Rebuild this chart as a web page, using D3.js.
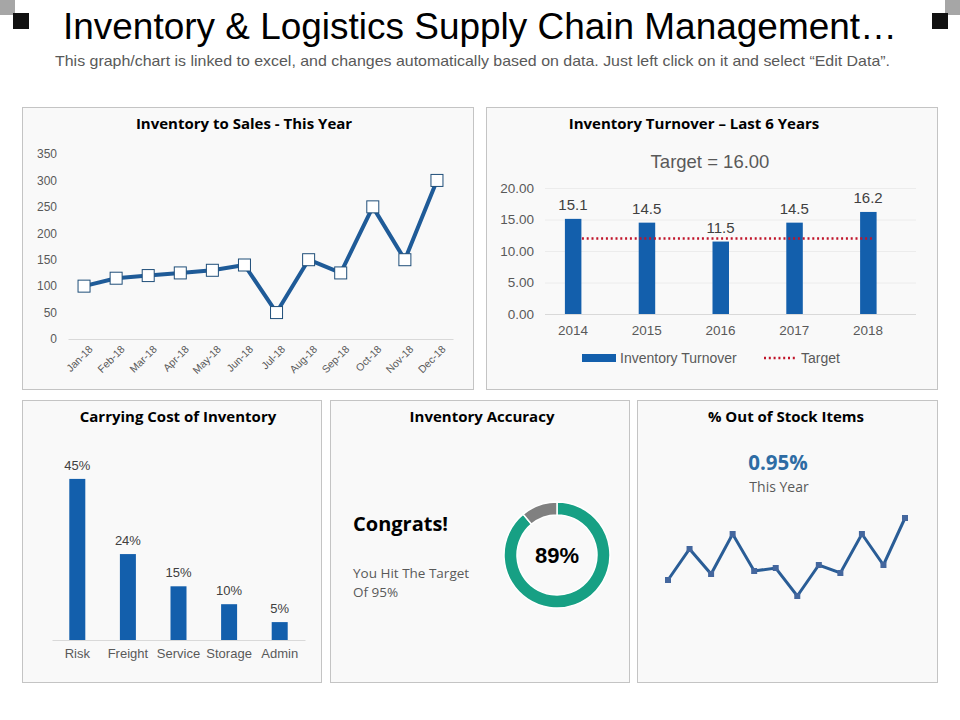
<!DOCTYPE html>
<html>
<head>
<meta charset="utf-8">
<script src="https://cdn.jsdelivr.net/npm/d3@7"></script>
<style>
  body { margin: 0; background: #fff; }
  svg { display: block; }
  .ptitle { font-family: "Open Sans", sans-serif; font-weight: bold; font-size: 15px; fill: #000; }
  .tick text { fill: #595959; font-family: "Liberation Sans", Arial, sans-serif; }
</style>
</head>
<body>
<svg id="page" width="960" height="720"></svg>
<script>
// data
var months = ["Jan-18","Feb-18","Mar-18","Apr-18","May-18","Jun-18","Jul-18","Aug-18","Sep-18","Oct-18","Nov-18","Dec-18"]
var invToSales = [100, 115, 120, 125, 130, 140, 50, 150, 125, 250, 150, 300]

var years = ["2014","2015","2016","2017","2018"]
var turnover = [15.1, 14.5, 11.5, 14.5, 16.2]
var targetLine = 12
var targetText = "Target = 16.00"

var costCats = ["Risk","Freight","Service","Storage","Admin"]
var costVals = [45, 24, 15, 10, 5]

var accuracy = [89, 11]

var stockVals = [0.90, 1.055, 0.93, 1.13, 0.945, 0.96, 0.82, 0.975, 0.935, 1.13, 0.975, 1.21]

var svg = d3.select("#page")
var arial = '"Liberation Sans", Arial, sans-serif'
var sans = '"Open Sans", sans-serif'

// corner squares
svg.append("rect").attr("x", 0).attr("y", 0).attr("width", 15).attr("height", 15).attr("fill", "#a6a6a6")
svg.append("rect").attr("x", 13).attr("y", 13).attr("width", 16).attr("height", 16).attr("fill", "#111")
svg.append("rect").attr("x", 945).attr("y", 0).attr("width", 15).attr("height", 15).attr("fill", "#a6a6a6")
svg.append("rect").attr("x", 932).attr("y", 13).attr("width", 16).attr("height", 16).attr("fill", "#111")

// header (narrow look squeezed to the reference width)
svg.append("text")
    .attr("x", 63).attr("y", 39)
    .attr("font-family", arial)
    .attr("font-size", 36)
    .attr("fill", "#000")
    .attr("textLength", 834)
    .attr("lengthAdjust", "spacingAndGlyphs")
    .text("Inventory & Logistics Supply Chain Management\u2026")

svg.append("text")
    .attr("x", 55).attr("y", 66)
    .attr("font-family", arial)
    .attr("font-size", 14.5)
    .attr("fill", "#595959")
    .attr("textLength", 835)
    .attr("lengthAdjust", "spacingAndGlyphs")
    .text("This graph/chart is linked to excel, and changes automatically  based on data. Just left click on it and select \u201cEdit Data\u201d.")

// panels
function panel(x, y, w, h, title, tx) {
    svg.append("rect")
        .attr("x", x + 0.5).attr("y", y + 0.5)
        .attr("width", w).attr("height", h)
        .attr("fill", "#f9f9f9")
        .attr("stroke", "#c4c4c4")
    svg.append("text")
        .attr("class", "ptitle")
        .attr("x", tx).attr("y", y + 22)
        .attr("text-anchor", "middle")
        .text(title)
}

panel(22, 107, 451, 282, "Inventory to Sales - This Year", 244)
panel(486, 107, 451, 282, "Inventory Turnover \u2013 Last 6 Years", 694)
panel(22, 400, 299, 282, "Carrying Cost of Inventory", 178)
panel(330, 400, 299, 282, "Inventory Accuracy", 482)
panel(637, 400, 300, 282, "% Out of Stock Items", 786)

//Inventory to sales line chart
var x1 = d3.scaleBand().domain(months).range([68, 453])
var y1 = d3.scaleLinear().domain([0, 350]).range([339, 154])

var ax1 = svg.append("g").attr("transform", "translate(68,0)")
    .call(d3.axisLeft(y1).tickValues(d3.range(0, 351, 50)).tickSize(0).tickPadding(11))
ax1.select(".domain").remove()
ax1.selectAll("text").attr("font-size", 12)

var bx1 = svg.append("g").attr("transform", "translate(0,339)")
    .call(d3.axisBottom(x1).tickSize(0).tickPadding(8))
bx1.select(".domain").attr("stroke", "#d9d9d9")
bx1.selectAll("text")
    .attr("font-size", 10.5)
    .attr("text-anchor", "end")
    .attr("dx", "-0.1em").attr("dy", "0.6em")
    .attr("transform", "rotate(-45)")

svg.append("path")
    .datum(invToSales)
    .attr("fill", "none")
    .attr("stroke", "#1f5b98")
    .attr("stroke-width", 4)
    .attr("stroke-linejoin", "round")
    .attr("d", d3.line()
        .x(function(d, i) { return x1(months[i]) + x1.bandwidth() / 2 })
        .y(function(d) { return y1(d) }))

svg.append("g").selectAll("rect")
    .data(invToSales)
    .enter().append("rect")
    .attr("x", function(d, i) { return x1(months[i]) + x1.bandwidth() / 2 - 6 })
    .attr("y", function(d) { return y1(d) - 6 })
    .attr("width", 12).attr("height", 12)
    .attr("fill", "#fff")
    .attr("stroke", "#1f4e79")
    .attr("stroke-width", 1)

//Inventory turnover bars
svg.append("text")
    .attr("x", 710).attr("y", 168)
    .attr("text-anchor", "middle")
    .attr("font-family", arial)
    .attr("font-size", 18.5)
    .attr("fill", "#595959")
    .text(targetText)

var x2 = d3.scaleBand().domain(years).range([536, 905])
var y2 = d3.scaleLinear().domain([0, 20]).range([314, 188])

var ax2 = svg.append("g").attr("transform", "translate(545,0)")
    .call(d3.axisLeft(y2).tickValues(d3.range(0, 21, 5)).tickSize(-371).tickPadding(11).tickFormat(d3.format(".2f")))
ax2.select(".domain").remove()
ax2.selectAll("line").attr("stroke", "#ececec")
ax2.selectAll("text").attr("font-size", 13.5)

var bx2 = svg.append("g").attr("transform", "translate(0,314)")
    .call(d3.axisBottom(x2).tickSize(0).tickPadding(11))
bx2.select(".domain").remove()
bx2.selectAll("text").attr("font-size", 13.5)
svg.append("line").attr("x1", 545).attr("x2", 916).attr("y1", 314.5).attr("y2", 314.5).attr("stroke", "#d9d9d9")

svg.append("g").selectAll("rect")
    .data(turnover)
    .enter().append("rect")
    .attr("x", function(d, i) { return x2(years[i]) + x2.bandwidth() / 2 - 8 })
    .attr("y", function(d) { return y2(d) })
    .attr("width", 16.5)
    .attr("height", function(d) { return y2(0) - y2(d) })
    .attr("fill", "#135fac")

svg.append("g").selectAll("text")
    .data(turnover)
    .enter().append("text")
    .attr("x", function(d, i) { return x2(years[i]) + x2.bandwidth() / 2 })
    .attr("y", function(d) { return y2(d) - 9 })
    .attr("text-anchor", "middle")
    .attr("font-family", arial)
    .attr("font-size", 15)
    .attr("fill", "#404040")
    .text(function(d) { return d3.format(".1f")(d) })

svg.append("line")
    .attr("x1", x2(years[0]) + x2.bandwidth() / 2 + 9)
    .attr("x2", x2(years[4]) + x2.bandwidth() / 2 + 5)
    .attr("y1", y2(targetLine)).attr("y2", y2(targetLine))
    .attr("stroke", "#c0142a")
    .attr("stroke-width", 2.5)
    .attr("stroke-dasharray", "2,2.8")

// legend
svg.append("rect").attr("x", 582).attr("y", 354).attr("width", 34).attr("height", 8).attr("fill", "#135fac")
svg.append("text").attr("x", 620).attr("y", 363)
    .attr("font-family", arial).attr("font-size", 14).attr("fill", "#595959")
    .text("Inventory Turnover")
svg.append("line").attr("x1", 764).attr("x2", 797).attr("y1", 358).attr("y2", 358)
    .attr("stroke", "#c0142a").attr("stroke-width", 2.5).attr("stroke-dasharray", "2,2.8")
svg.append("text").attr("x", 801).attr("y", 363)
    .attr("font-family", arial).attr("font-size", 14).attr("fill", "#595959")
    .text("Target")

//Carrying cost bars
var x3 = d3.scaleBand().domain(costCats).range([52, 305])
var y3 = d3.scaleLinear().domain([0, 50]).range([640, 461])

var bx3 = svg.append("g").attr("transform", "translate(0,640)")
    .call(d3.axisBottom(x3).tickSize(0).tickPadding(9))
bx3.select(".domain").attr("stroke", "#d9d9d9")
bx3.selectAll("text").attr("font-size", 13)

svg.append("g").selectAll("rect")
    .data(costVals)
    .enter().append("rect")
    .attr("x", function(d, i) { return x3(costCats[i]) + x3.bandwidth() / 2 - 8 })
    .attr("y", function(d) { return y3(d) })
    .attr("width", 16)
    .attr("height", function(d) { return y3(0) - y3(d) })
    .attr("fill", "#135fac")

svg.append("g").selectAll("text")
    .data(costVals)
    .enter().append("text")
    .attr("x", function(d, i) { return x3(costCats[i]) + x3.bandwidth() / 2 })
    .attr("y", function(d) { return y3(d) - 9 })
    .attr("text-anchor", "middle")
    .attr("font-family", arial)
    .attr("font-size", 13)
    .attr("fill", "#404040")
    .text(function(d) { return d + "%" })

//Inventory accuracy donut
svg.append("text").attr("x", 353).attr("y", 531)
    .attr("font-family", sans).attr("font-weight", "bold")
    .attr("font-size", 20).attr("fill", "#000")
    .text("Congrats!")
svg.append("text").attr("x", 353).attr("y", 578)
    .attr("font-family", sans).attr("font-size", 13.5).attr("fill", "#595959")
    .text("You Hit The Target")
svg.append("text").attr("x", 353).attr("y", 597)
    .attr("font-family", sans).attr("font-size", 13.5).attr("fill", "#595959")
    .text("Of 95%")

var pie = d3.pie().sort(null)
var arc = d3.arc().innerRadius(40).outerRadius(53)
var donut = svg.append("g").attr("transform", "translate(557,555)")
donut.selectAll("path")
    .data(pie(accuracy))
    .enter().append("path")
    .attr("d", arc)
    .attr("fill", function(d, i) { return i == 0 ? "#17a084" : "#808080" })
    .attr("stroke", "#fff")
    .attr("stroke-width", 1.5)
donut.append("text")
    .attr("y", 8)
    .attr("text-anchor", "middle")
    .attr("font-family", arial).attr("font-weight", "bold")
    .attr("font-size", 22).attr("fill", "#000")
    .text(accuracy[0] + "%")

//Out of stock sparkline
svg.append("text").attr("x", 778).attr("y", 470)
    .attr("text-anchor", "middle")
    .attr("font-family", sans).attr("font-weight", "bold")
    .attr("font-size", 20.5).attr("fill", "#2e6ca4")
    .text("0.95%")
svg.append("text").attr("x", 779).attr("y", 492)
    .attr("text-anchor", "middle")
    .attr("font-family", sans)
    .attr("font-size", 14).attr("fill", "#595959")
    .text("This Year")

var x5 = d3.scalePoint().domain(d3.range(stockVals.length)).range([668, 905])
var y5 = d3.scaleLinear().domain([0.7, 1.3]).range([620, 500])

svg.append("path")
    .datum(stockVals)
    .attr("fill", "none")
    .attr("stroke", "#2a5d96")
    .attr("stroke-width", 3)
    .attr("d", d3.line()
        .x(function(d, i) { return x5(i) })
        .y(function(d) { return y5(d) }))

svg.append("g").selectAll("rect")
    .data(stockVals)
    .enter().append("rect")
    .attr("x", function(d, i) { return x5(i) - 3 })
    .attr("y", function(d) { return y5(d) - 3 })
    .attr("width", 6).attr("height", 6)
    .attr("fill", "#44679e")
</script>
</body>
</html>
